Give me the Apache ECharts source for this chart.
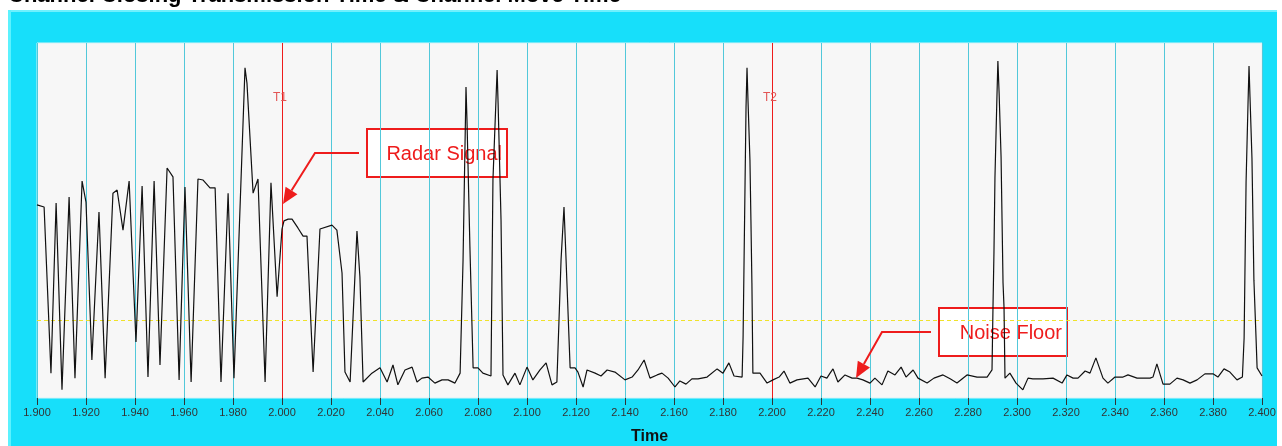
<!DOCTYPE html>
<html>
<head>
<meta charset="utf-8">
<title>Channel Closing Transmission Time & Channel Move Time</title>
<script src="https://cdn.jsdelivr.net/npm/echarts@6/dist/echarts.min.js"></script>
<style>
  html, body { margin: 0; padding: 0; background: #fff; }
  #chart { width: 1282px; height: 446px; }
</style>
</head>
<body>
<div id="chart"></div>
<script>
// sample times (s) and detector amplitude (arbitrary units, 0..100)
var times = [
  1.9000, 1.9029, 1.9057, 1.9078, 1.9102, 1.9131, 1.9155, 1.9184, 1.9200, 1.9224,
  1.9253, 1.9278, 1.9310, 1.9327, 1.9351, 1.9376, 1.9404, 1.9429, 1.9453, 1.9478,
  1.9502, 1.9531, 1.9555, 1.9580, 1.9604, 1.9629, 1.9657, 1.9678, 1.9706, 1.9727,
  1.9751, 1.9780, 1.9804, 1.9849, 1.9857, 1.9882, 1.9902, 1.9931, 1.9955, 1.9980,
  2.0000, 2.0008, 2.0025, 2.0041, 2.0065, 2.0086, 2.0102, 2.0127, 2.0155, 2.0204,
  2.0224, 2.0245, 2.0257, 2.0278, 2.0306, 2.0318, 2.0331, 2.0367, 2.0400, 2.0429,
  2.0453, 2.0473, 2.0502, 2.0531, 2.0551, 2.0571, 2.0596, 2.0624, 2.0653, 2.0678,
  2.0706, 2.0727, 2.0739, 2.0751, 2.0755, 2.0767, 2.0780, 2.0800, 2.0820, 2.0853,
  2.0861, 2.0878, 2.0882, 2.0894, 2.0902, 2.0922, 2.0951, 2.0971, 2.1000, 2.1024,
  2.1053, 2.1078, 2.1102, 2.1122, 2.1139, 2.1151, 2.1159, 2.1176, 2.1196, 2.1208,
  2.1229, 2.1245, 2.1278, 2.1302, 2.1327, 2.1359, 2.1400, 2.1429, 2.1453, 2.1478,
  2.1502, 2.1531, 2.1551, 2.1576, 2.1604, 2.1624, 2.1649, 2.1673, 2.1698, 2.1735,
  2.1776, 2.1800, 2.1824, 2.1845, 2.1878, 2.1882, 2.1886, 2.1890, 2.1894, 2.1898,
  2.1902, 2.1910, 2.1914, 2.1918, 2.1922, 2.1951, 2.1980, 2.2004, 2.2029, 2.2049,
  2.2073, 2.2102, 2.2147, 2.2176, 2.2200, 2.2224, 2.2237, 2.2249, 2.2269, 2.2298,
  2.2327, 2.2347, 2.2371, 2.2400, 2.2420, 2.2449, 2.2473, 2.2502, 2.2527, 2.2547,
  2.2576, 2.2596, 2.2633, 2.2661, 2.2698, 2.2727, 2.2755, 2.2796, 2.2837, 2.2878,
  2.2898, 2.2902, 2.2906, 2.2910, 2.2918, 2.2922, 2.2927, 2.2935, 2.2939, 2.2943,
  2.2947, 2.2951, 2.2971, 2.2996, 2.3024, 2.3045, 2.3065, 2.3106, 2.3147, 2.3184,
  2.3204, 2.3229, 2.3249, 2.3278, 2.3298, 2.3322, 2.3351, 2.3371, 2.3400, 2.3433,
  2.3453, 2.3490, 2.3543, 2.3555, 2.3571, 2.3596, 2.3624, 2.3653, 2.3678, 2.3706,
  2.3735, 2.3767, 2.3800, 2.3820, 2.3845, 2.3869, 2.3898, 2.3920, 2.3927, 2.3931,
  2.3935, 2.3943, 2.3947, 2.3951, 2.3959, 2.3963, 2.3967, 2.3976, 2.3980, 2.4000
];
var amps = [
  54.4, 53.8, 7.0, 54.9, 2.3, 56.6, 5.6, 61.1, 55.2, 10.7,
  52.4, 5.6, 57.7, 58.6, 47.3, 61.1, 15.8, 59.7, 5.9, 61.1,
  9.3, 64.8, 62.3, 5.1, 59.4, 4.5, 61.7, 61.4, 59.2, 59.2,
  4.5, 57.7, 5.6, 93.0, 88.7, 57.7, 61.7, 4.5, 60.6, 28.5,
  47.6, 49.9, 50.4, 50.4, 47.9, 45.6, 45.6, 7.3, 47.6, 48.7,
  47.3, 35.2, 7.3, 4.5, 47.0, 34.1, 4.5, 7.0, 8.5, 4.5,
  9.3, 3.7, 7.9, 8.7, 4.5, 5.6, 5.9, 4.2, 5.1, 5.1,
  4.2, 7.0, 38.9, 87.6, 78.3, 42.5, 8.5, 8.5, 7.0, 6.2,
  61.4, 92.4, 83.1, 50.1, 6.5, 3.7, 7.0, 3.7, 8.7, 5.1,
  7.9, 9.9, 3.7, 4.5, 38.9, 53.8, 39.7, 8.5, 8.5, 7.3,
  3.1, 7.9, 7.0, 6.2, 7.9, 7.3, 5.1, 5.9, 7.9, 10.7,
  5.6, 6.5, 7.0, 5.6, 3.1, 4.8, 3.9, 5.4, 5.4, 5.9,
  8.2, 7.0, 9.9, 6.2, 5.9, 17.2, 38.9, 60.6, 82.0, 93.0,
  83.9, 67.0, 50.1, 32.4, 7.0, 7.0, 4.2, 5.1, 5.9, 7.6,
  4.2, 5.1, 5.6, 3.1, 6.2, 5.6, 7.0, 8.2, 4.5, 6.5,
  5.6, 5.6, 5.1, 4.2, 5.6, 3.7, 7.6, 6.5, 8.7, 5.9,
  7.9, 5.6, 4.2, 5.6, 6.5, 5.4, 4.2, 6.5, 5.9, 5.9,
  7.9, 25.6, 41.1, 62.0, 84.5, 94.9, 85.9, 67.9, 50.1, 32.4,
  25.6, 5.6, 7.0, 4.2, 2.3, 5.6, 5.4, 5.4, 5.6, 4.2,
  6.5, 5.6, 5.6, 7.6, 7.0, 11.3, 5.6, 4.2, 5.9, 5.9,
  6.5, 5.6, 5.6, 5.9, 9.6, 3.9, 3.9, 5.6, 5.1, 4.2,
  5.1, 6.8, 6.8, 5.9, 8.2, 7.3, 5.1, 5.9, 16.9, 38.9,
  60.8, 83.1, 93.5, 84.8, 67.6, 50.7, 33.2, 16.3, 8.5, 6.2
];
var cursorTimes = [2.000, 2.200];
var cursorNames = ['T1', 'T2'];
var noiseFloor = 22.0;
var chartTitle = 'Channel Closing Transmission Time & Channel Move Time';

var FONT = 'Arial, "Liberation Sans", sans-serif';
var CYAN = '#17dffa';
var RED = '#ee1c1c';

var myChart = echarts.init(document.getElementById('chart'), null, { renderer: 'canvas' });

// arrow = polyline from the box plus a filled head at the tip
function arrow(pts, headLen, headHalf) {
  var tip = pts[pts.length - 1], from = pts[pts.length - 2];
  var dx = tip[0] - from[0], dy = tip[1] - from[1];
  var len = Math.sqrt(dx * dx + dy * dy);
  var ux = dx / len, uy = dy / len;
  var bx = tip[0] - ux * headLen, by = tip[1] - uy * headLen;
  var line = pts.slice(0, -1).concat([[bx, by]]);
  return [
    { type: 'polyline', z: 100, shape: { points: line }, style: { stroke: RED, lineWidth: 2, fill: null } },
    { type: 'polygon', z: 100, shape: { points: [tip, [bx - uy * headHalf, by + ux * headHalf], [bx + uy * headHalf, by - ux * headHalf]] },
      style: { fill: RED } }
  ];
}

function callout(x, y, w, h, text) {
  return {
    type: 'group', z: 100,
    children: [
      { type: 'rect', shape: { x: x, y: y, width: w, height: h }, style: { fill: '#fff', stroke: RED, lineWidth: 2 } },
      { type: 'text', style: { x: x + w - 5, y: y + h / 2 + 1, text: text, fill: RED, font: '20px ' + FONT, align: 'right', verticalAlign: 'middle' } }
    ]
  };
}

var graphics = [
  // cyan panel behind the plot
  { type: 'rect', z: -10, shape: { x: 8, y: 10, width: 1269, height: 436 }, style: { fill: CYAN } },
  { type: 'rect', z: -9, shape: { x: 8, y: 10, width: 1269, height: 2 }, style: { fill: '#6ff0fd' } },
  { type: 'rect', z: -9, shape: { x: 8, y: 10, width: 3, height: 436 }, style: { fill: '#5cf2fe' } },
  { type: 'text', z: -8, style: { x: 8, y: -4, text: chartTitle, fill: '#000', font: 'bold 22px ' + FONT, verticalAlign: 'middle' } },
  callout(367, 129, 140, 48, 'Radar Signal'),
  callout(939, 308, 128, 48, 'Noise Floor')
];
graphics = graphics.concat(arrow([[359, 153], [315, 153], [283, 204]], 16, 7));
graphics = graphics.concat(arrow([[931, 332], [882, 332], [856, 378]], 16, 7));

var data = times.map(function (t, i) { return [t, amps[i]]; });

var option = {
  animation: false,
  backgroundColor: '#fff',
  grid: {
    left: 37, right: 20, top: 43, bottom: 48,
    containLabel: false, outerBoundsMode: 'none',
    show: true, backgroundColor: '#f7f7f7', borderColor: '#d6f3f7', borderWidth: 1
  },
  xAxis: {
    type: 'value', min: 1.9, max: 2.4, interval: 0.02,
    name: 'Time', nameLocation: 'middle', nameGap: 31,
    nameTextStyle: { color: '#111', fontSize: 16, fontWeight: 'bold', fontFamily: FONT },
    axisLine: { show: false },
    axisTick: { show: true, length: 7, lineStyle: { color: '#333' } },
    axisLabel: {
      color: '#333', fontSize: 11, fontFamily: FONT, margin: 9,
      formatter: function (v) { return v.toFixed(3); }
    },
    splitLine: { show: true, lineStyle: { color: '#52c8da', width: 1 } }
  },
  yAxis: {
    type: 'value', min: 0, max: 100, show: false,
    splitLine: { show: false }
  },
  graphic: graphics,
  series: [
    {
      type: 'line',
      data: data,
      showSymbol: false,
      symbol: 'none',
      lineStyle: { color: '#111', width: 1.2 },
      z: 5,
      markLine: {
        silent: true, symbol: 'none', animation: false,
        label: { show: false },
        data: cursorTimes.map(function (t) {
          return { xAxis: t, lineStyle: { color: RED, width: 1, type: 'solid' } };
        }).concat([
          { yAxis: noiseFloor, lineStyle: { color: '#f0e22a', width: 1, type: [4, 3] } }
        ])
      },
      markPoint: {
        silent: true, symbol: 'rect', symbolSize: 0,
        label: { show: true, color: '#e25555', fontSize: 12, fontFamily: FONT, offset: [-2, 0],
          formatter: function (p) { return p.name; } },
        data: cursorTimes.map(function (t, i) {
          return { name: cursorNames[i], coord: [t, 84.5] };
        })
      }
    }
  ]
};

myChart.setOption(option);
window.addEventListener('resize', function () { myChart.resize(); });
</script>
</body>
</html>
